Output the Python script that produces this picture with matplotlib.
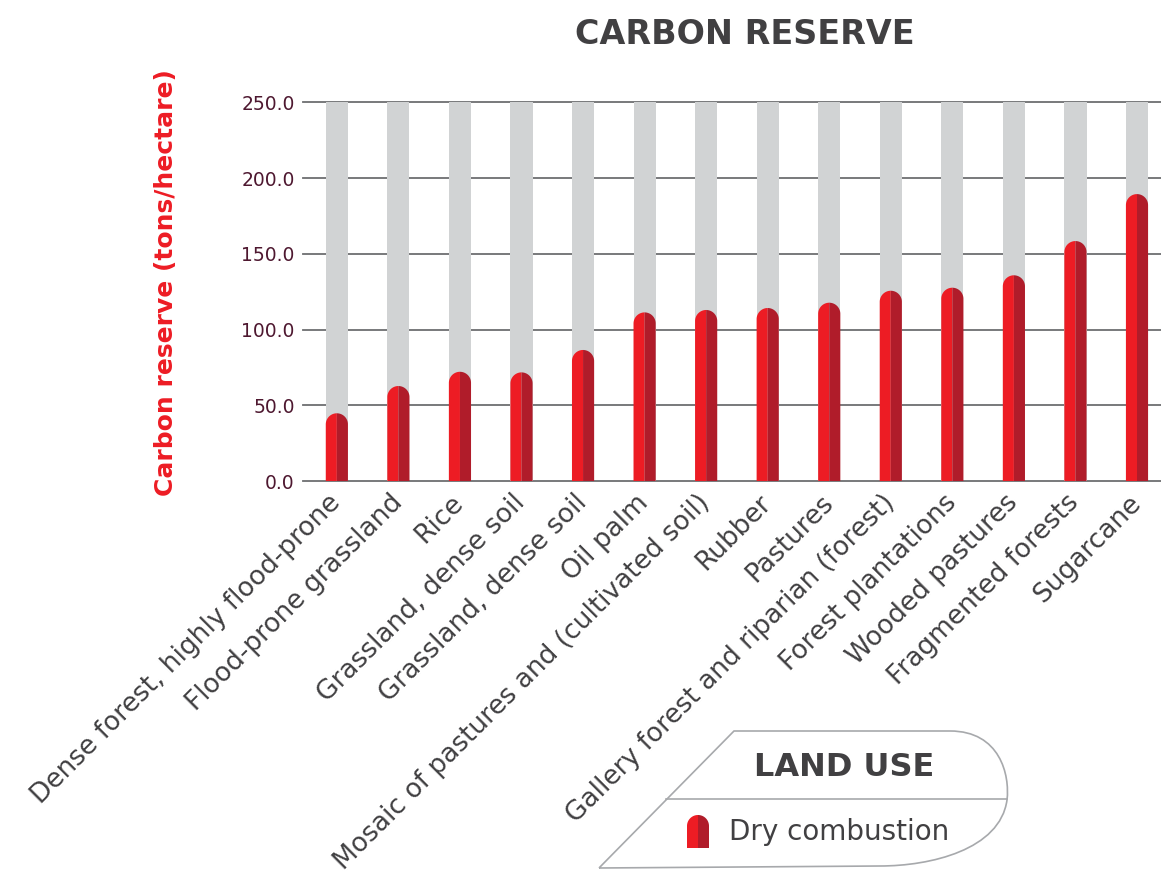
import numpy as np
import matplotlib
matplotlib.use("Agg")
import matplotlib.pyplot as plt
from matplotlib.patches import Polygon, PathPatch
from matplotlib.path import Path

categories = [
    "Dense forest, highly flood-prone",
    "Flood-prone grassland",
    "Rice",
    "Grassland, dense soil",
    "Grassland, dense soil",
    "Oil palm",
    "Mosaic of pastures and (cultivated soil)",
    "Rubber",
    "Pastures",
    "Gallery forest and riparian (forest)",
    "Forest plantations",
    "Wooded pastures",
    "Fragmented forests",
    "Sugarcane",
]
values = [44.7, 62.7, 72.1, 71.7, 86.5, 111.3, 112.9, 114.2, 117.7, 125.6, 127.6, 135.8, 158.4, 189.4]
y_ticks = [0, 50, 100, 150, 200, 250]
y_max = 250

W, H = 1161, 873
fig = plt.figure(figsize=(W / 100, H / 100), dpi=100)
ax_l, ax_r, ax_t, ax_b = 303, 1161, 102.3, 481
ax = fig.add_axes([ax_l / W, 1 - ax_b / H, (ax_r - ax_l) / W, (ax_b - ax_t) / H])
ax.set_xlim(-0.55, 13.39)
ax.set_ylim(0, y_max)
for s in ax.spines.values():
    s.set_visible(False)

RED_L = "#ED1C24"
RED_D = "#B01C2A"
GREY = "#D1D3D4"
LINE = "#6D6E71"

for yv in y_ticks:
    ax.plot([-0.55, 13.39], [yv, yv], color=LINE, lw=1.3, zorder=1, clip_on=False)

bw = 0.36
px_x = (ax_r - ax_l) / (13.39 + 0.55)
px_y = (ax_b - ax_t) / y_max
rx = bw / 2
ry = rx * px_x / px_y

x = np.arange(len(categories))
ax.bar(x, [y_max] * len(x), width=bw, color=GREY, zorder=2, linewidth=0)

t = np.linspace(0, np.pi / 2, 30)
for xi, v in zip(x, values):
    arc_l = [(xi - rx * np.cos(a), v - ry + ry * np.sin(a)) for a in t]
    left = [(xi, 0), (xi - rx, 0)] + arc_l + [(xi, v)]
    ax.add_patch(Polygon(left, closed=True, facecolor=RED_L, edgecolor="none", zorder=3))
    arc_r = [(xi + rx * np.cos(a), v - ry + ry * np.sin(a)) for a in t]
    right = [(xi, 0), (xi + rx, 0)] + arc_r + [(xi, v)]
    ax.add_patch(Polygon(right, closed=True, facecolor=RED_D, edgecolor="none", zorder=3))

ax.set_yticks(y_ticks)
ax.set_yticklabels([f"{v:.1f}" for v in y_ticks], fontsize=13.5, color="#4E1830")
ax.tick_params(axis="y", length=0, pad=6)
ax.set_xticks(x)
ax.set_xticklabels(categories, rotation=45, ha="right", va="center",
                   rotation_mode="anchor", fontsize=19, color="#414042")
ax.tick_params(axis="x", length=0, pad=13)

fig.text(166 / W, 1 - 283 / H, "Carbon reserve (tons/hectare)", rotation=90,
         color=RED_L, fontsize=18, fontweight="bold", ha="center", va="center")
fig.text(745 / W, 1 - 35 / H, "CARBON RESERVE", color="#414042", fontsize=24,
         fontweight="bold", ha="center", va="center")

lax = fig.add_axes([0, 0, 1, 1], facecolor="none")
lax.set_xlim(0, W)
lax.set_ylim(H, 0)
lax.axis("off")
verts = [(599, 868), (734, 731), (950, 731),
         (1000, 731), (1010, 775), (1007, 800),
         (1000, 850), (930, 866), (880, 866),
         (599, 868)]
codes = [Path.MOVETO, Path.LINETO, Path.LINETO,
         Path.CURVE4, Path.CURVE4, Path.CURVE4,
         Path.CURVE4, Path.CURVE4, Path.CURVE4,
         Path.LINETO]
lax.add_patch(PathPatch(Path(verts, codes), facecolor="none", edgecolor="#A7A9AC", lw=1.2))
lax.plot([666, 1007], [799, 799], color="#A7A9AC", lw=1.2)
lax.text(844, 768, "LAND USE", color="#414042", fontsize=23, fontweight="bold",
         ha="center", va="center")
ix, iw, itop, ibot = 698, 22, 815, 848
tt = np.linspace(0, np.pi / 2, 20)
r = iw / 2
left_i = [(ix, ibot), (ix - r, ibot)] + [(ix - r * np.cos(a), itop + r - r * np.sin(a)) for a in tt] + [(ix, itop)]
right_i = [(ix, ibot), (ix + r, ibot)] + [(ix + r * np.cos(a), itop + r - r * np.sin(a)) for a in tt] + [(ix, itop)]
lax.add_patch(Polygon(left_i, closed=True, facecolor=RED_L, edgecolor="none"))
lax.add_patch(Polygon(right_i, closed=True, facecolor=RED_D, edgecolor="none"))
lax.text(729, 832, "Dry combustion", color="#414042", fontsize=20, ha="left", va="center")

fig.savefig("out.png", dpi=100)
